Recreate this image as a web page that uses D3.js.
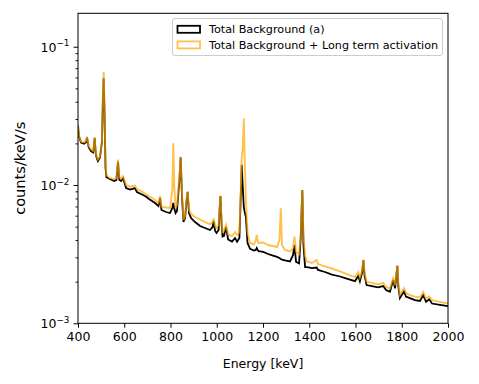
<!DOCTYPE html>
<html>
<head>
<meta charset="utf-8">
<script src="https://cdn.jsdelivr.net/npm/d3@7"></script>
<style>
  html, body { margin: 0; padding: 0; background: #fff; }
  svg { display: block; font-family: "DejaVu Sans", sans-serif; }
</style>
</head>
<body>
<svg id="chart" width="479" height="384"></svg>
<script>
// ---------------- data ----------------
const energy = [400,404,413,426,435,439,446,456,466,469,472,476,480,486,495,504,508,511,515,519,523,535,557,566,570,573,576,579,586,595,608,625,646,655,677,697,707,733,748,755,761,781,798,808,812,816,822,828,839,844,850,856,863,869,874,880,889,906,928,949,971,982,987,993,999,1008,1013,1016,1021,1025,1031,1040,1049,1066,1079,1088,1098,1104,1108,1112,1117,1121,1126,1133,1144,1161,1169,1173,1177,1181,1201,1222,1243,1261,1271,1277,1282,1295,1317,1330,1336,1343,1356,1363,1370,1375,1382,1390,1412,1432,1438,1468,1498,1533,1555,1576,1598,1612,1619,1629,1634,1639,1648,1671,1697,1720,1732,1749,1763,1771,1776,1781,1785,1792,1810,1818,1835,1857,1879,1893,1905,1919,1931,1965,2000];

const totalBackground = [0.0268,0.0226,0.0203,0.0199,0.0204,0.0221,0.0188,0.0176,0.0172,0.0191,0.0219,0.0176,0.0159,0.0149,0.0158,0.0208,0.0448,0.0591,0.0321,0.0133,0.0114,0.0111,0.0107,0.0109,0.0129,0.0147,0.0125,0.0109,0.0107,0.0112,0.00951,0.00928,0.00951,0.00890,0.00854,0.00819,0.00792,0.00741,0.00705,0.00805,0.00660,0.00638,0.00627,0.00682,0.00741,0.00682,0.00627,0.00649,0.0112,0.0159,0.00805,0.00540,0.00577,0.00754,0.00890,0.00627,0.00577,0.00540,0.00505,0.00489,0.00473,0.00497,0.00549,0.00465,0.00450,0.00473,0.00693,0.00833,0.00522,0.00424,0.00428,0.00497,0.00404,0.00390,0.00414,0.00389,0.00414,0.00847,0.0140,0.0100,0.00693,0.00638,0.00587,0.00381,0.00345,0.00336,0.00339,0.00350,0.00339,0.00333,0.00328,0.00317,0.00309,0.00302,0.00297,0.00292,0.00289,0.00285,0.00280,0.00312,0.00368,0.00278,0.00271,0.00414,0.00920,0.00368,0.00255,0.00255,0.00251,0.00253,0.00243,0.00235,0.00225,0.00218,0.00212,0.00207,0.00202,0.00220,0.00201,0.00235,0.00287,0.00223,0.00189,0.00186,0.00182,0.00186,0.00174,0.00169,0.00206,0.00179,0.00216,0.00260,0.00186,0.00152,0.00171,0.00156,0.00152,0.00147,0.00145,0.00160,0.00143,0.00149,0.00139,0.00136,0.00133];

const totalBackgroundLongTerm = [0.0272,0.0230,0.0206,0.0203,0.0208,0.0224,0.0191,0.0181,0.0176,0.0194,0.0221,0.0179,0.0162,0.0153,0.0161,0.0212,0.0486,0.0656,0.0349,0.0140,0.0118,0.0113,0.0110,0.0112,0.0133,0.0153,0.0129,0.0114,0.0111,0.0116,0.0100,0.00972,0.00992,0.00936,0.00897,0.00847,0.00833,0.00779,0.00741,0.00833,0.00699,0.00688,0.00682,0.00920,0.0200,0.0100,0.00682,0.00717,0.0118,0.0160,0.00847,0.00558,0.00597,0.00779,0.00905,0.00660,0.00617,0.00587,0.00563,0.00540,0.00522,0.00540,0.00573,0.00505,0.00489,0.00514,0.00717,0.00840,0.00558,0.00457,0.00465,0.00514,0.00442,0.00428,0.00457,0.00435,0.00457,0.00920,0.0160,0.0179,0.0304,0.0152,0.00779,0.00450,0.00381,0.00371,0.00400,0.00435,0.00394,0.00381,0.00384,0.00368,0.00362,0.00356,0.00400,0.00679,0.00368,0.00339,0.00331,0.00350,0.00423,0.00328,0.00317,0.00435,0.00920,0.00435,0.00307,0.00280,0.00273,0.00287,0.00268,0.00258,0.00249,0.00237,0.00230,0.00222,0.00216,0.00235,0.00214,0.00243,0.00289,0.00235,0.00200,0.00196,0.00191,0.00196,0.00183,0.00179,0.00212,0.00189,0.00220,0.00264,0.00196,0.00160,0.00179,0.00166,0.00160,0.00156,0.00154,0.00168,0.00151,0.00156,0.00147,0.00143,0.00139];

const xTicks = [400,600,800,1000,1200,1400,1600,1800,2000];
const yMajorTicks = [1e-3, 1e-2, 1e-1];
const yTickExponents = ["\u22123", "\u22122", "\u22121"];
const seriesNames = ["Total Background (a)", "Total Background + Long term activation"];
const xLabel = "Energy [keV]";
const yLabel = "counts/keV/s";

// ---------------- layout ----------------
const svg = d3.select("#chart");
const L = 78, R = 448, T = 13.3, B = 323.3;

const x = d3.scaleLinear().domain([400, 2000]).range([L, R]);
const y = d3.scaleLog().domain([1e-3, 0.1745]).range([B, T]);

svg.append("defs").append("clipPath").attr("id", "clip")
  .append("rect").attr("x", L).attr("y", T).attr("width", R - L).attr("height", B - T);

const rows = energy.map((e, i) => ({e, a: totalBackground[i], b: totalBackgroundLongTerm[i]}));

const plot = svg.append("g").attr("clip-path", "url(#clip)");

const lineA = d3.line().x(d => x(d.e)).y(d => y(d.a));
const lineB = d3.line().x(d => x(d.e)).y(d => y(d.b));

plot.append("path").datum(rows).attr("d", lineA)
  .attr("fill", "none").attr("stroke", "#000").attr("stroke-width", 1.8)
  .attr("stroke-linejoin", "miter");
plot.append("path").datum(rows).attr("d", lineB)
  .attr("fill", "none").attr("stroke", "orange").attr("stroke-opacity", 0.7)
  .attr("stroke-width", 1.9).attr("stroke-linejoin", "miter");

// ---------------- axes ----------------
const fontTick = 12.5;

const xAxis = svg.append("g").attr("transform", `translate(0,${B})`)
  .call(d3.axisBottom(x).tickValues(xTicks).tickFormat(d3.format("d"))
        .tickSize(4.4).tickPadding(4).tickSizeOuter(0));
xAxis.select(".domain").remove();
xAxis.selectAll(".tick line").attr("stroke", "#000").attr("stroke-width", 1);
xAxis.selectAll(".tick text").attr("font-size", fontTick).attr("fill", "#000")
  .attr("font-family", "DejaVu Sans");

// minor y ticks
const minor = [];
[1e-3, 1e-2, 1e-1].forEach(base => {
  for (let k = 2; k <= 9; k++) { const v = base * k; if (v <= 0.1745) minor.push(v); }
});
const yMinor = svg.append("g").attr("transform", `translate(${L},0)`)
  .call(d3.axisLeft(y).tickValues(minor).tickFormat("").tickSize(2.5).tickSizeOuter(0));
yMinor.select(".domain").remove();
yMinor.selectAll(".tick line").attr("stroke", "#000").attr("stroke-width", 0.9);

const yAxis = svg.append("g").attr("transform", `translate(${L},0)`)
  .call(d3.axisLeft(y).tickValues(yMajorTicks).tickFormat("").tickSize(4.4).tickSizeOuter(0));
yAxis.select(".domain").remove();
yAxis.selectAll(".tick line").attr("stroke", "#000").attr("stroke-width", 1);
yAxis.selectAll(".tick").each(function(d, i) {
  const t = d3.select(this).append("text")
    .attr("x", -8.6).attr("y", 4.5)
    .attr("text-anchor", "end").attr("fill", "#000")
    .attr("font-size", fontTick).attr("font-family", "DejaVu Sans");
  t.append("tspan").text("10");
  t.append("tspan").attr("dy", -5.5).attr("font-size", 8.8).text(yTickExponents[i]);
});

// frame
svg.append("rect").attr("x", L).attr("y", T).attr("width", R - L).attr("height", B - T)
  .attr("fill", "none").attr("stroke", "#000").attr("stroke-width", 1);

// labels
svg.append("text").attr("x", (L + R) / 2).attr("y", 368)
  .attr("text-anchor", "middle").attr("font-size", 12.5).attr("fill", "#000")
  .text(xLabel);
svg.append("text").attr("transform", `translate(25,${(T + B) / 2}) rotate(-90)`)
  .attr("text-anchor", "middle").attr("font-size", 14.6).attr("fill", "#000")
  .text(yLabel);

// ---------------- legend ----------------
const lg = svg.append("g");
lg.append("rect").attr("x", 172.5).attr("y", 18.5).attr("width", 270).attr("height", 37)
  .attr("rx", 2.5).attr("fill", "#fff").attr("fill-opacity", 0.8)
  .attr("stroke", "#ccc").attr("stroke-width", 1);
const legendStyles = [
  {stroke: "#000", opacity: 1},
  {stroke: "orange", opacity: 0.7}
];
seriesNames.forEach((name, i) => {
  const yy = 25.8 + i * 15.6;
  lg.append("rect").attr("x", 177.5).attr("y", yy).attr("width", 22.5).attr("height", 7)
    .attr("fill", "none").attr("stroke", legendStyles[i].stroke)
    .attr("stroke-opacity", legendStyles[i].opacity).attr("stroke-width", 1.8);
  lg.append("text").attr("x", 209).attr("y", yy + 7.6)
    .attr("font-size", 11.2).attr("fill", "#000").text(name);
});
</script>
</body>
</html>
